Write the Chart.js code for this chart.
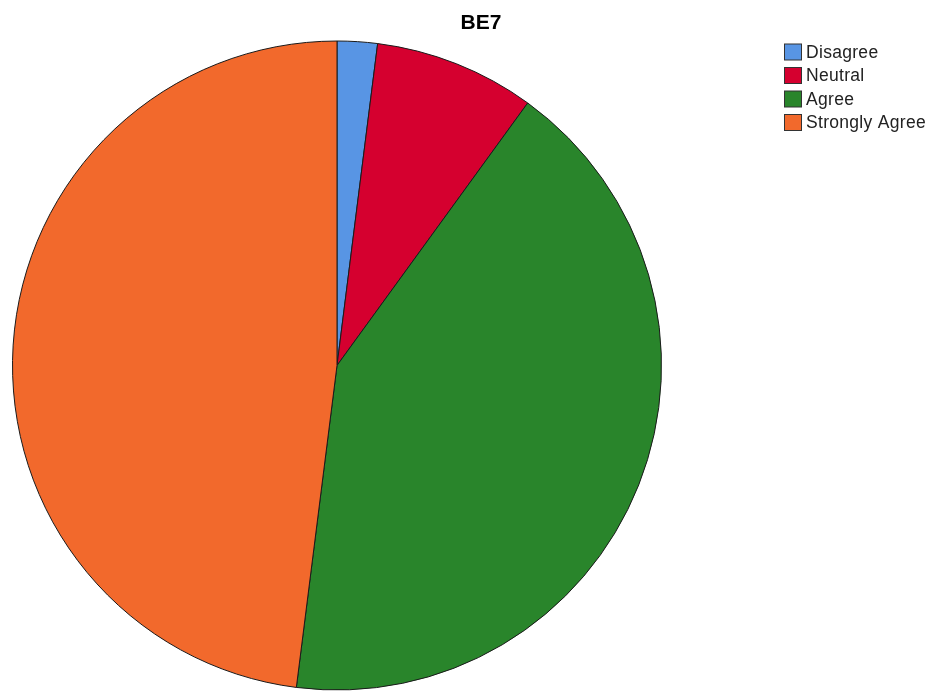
<!DOCTYPE html>
<html>
<head>
<meta charset="utf-8">
<title>BE7</title>
<script src="https://cdn.jsdelivr.net/npm/chart.js@4.4.0/dist/chart.umd.min.js"></script>
<style>
    html, body { margin: 0; padding: 0; background: #fff; }
    canvas { display: block; }
</style>
</head>
<body>
<canvas id="pie" width="931" height="691"></canvas>
<script>
const title = 'BE7';
const categories = ['Disagree', 'Neutral', 'Agree', 'Strongly Agree'];
const counts = [1, 4, 21, 24];
const colors = ['#5895e4', '#d5002f', '#29852b', '#f2692c'];

// Title and legend drawn at fixed spots, SPSS style
const sideLegend = {
    id: 'sideLegend',
    afterDraw: (chart) => {
        const ctx = chart.ctx;
        ctx.save();

        ctx.fillStyle = '#000';
        ctx.font = 'bold 21px "Liberation Sans", Arial, sans-serif';
        ctx.textAlign = 'center';
        ctx.textBaseline = 'middle';
        ctx.fillText(title, 481, 23);

        const ds = chart.data.datasets[0];
        ctx.font = '17.5px "Liberation Sans", Arial, sans-serif';
        ctx.letterSpacing = '0.3px';
        ctx.textAlign = 'left';
        chart.data.labels.forEach((label, i) => {
            const y = 52 + i * 23.5;
            ctx.fillStyle = ds.backgroundColor[i];
            ctx.fillRect(784.5, y - 8, 17, 16);
            ctx.strokeStyle = '#333';
            ctx.lineWidth = 1;
            ctx.strokeRect(784.5, y - 8, 17, 16);
            ctx.fillStyle = '#222';
            ctx.fillText(label, 806, y + 1);
        });
        ctx.restore();
    }
};

new Chart(
    document.getElementById('pie'),
    {
        type: 'pie',
        data: {
            labels: categories,
            datasets: [
                {
                    label: title,
                    data: counts,
                    backgroundColor: colors,
                    borderColor: '#1a1a1a',
                    borderWidth: 1
                }
            ]
        },
        options: {
            responsive: false,
            animation: false,
            layout: {
                padding: { left: 12, top: 40, right: 269, bottom: 0 }
            },
            plugins: {
                legend: { display: false },
                title: { display: false },
                tooltip: { enabled: false }
            }
        },
        plugins: [sideLegend]
    }
);
</script>
</body>
</html>
